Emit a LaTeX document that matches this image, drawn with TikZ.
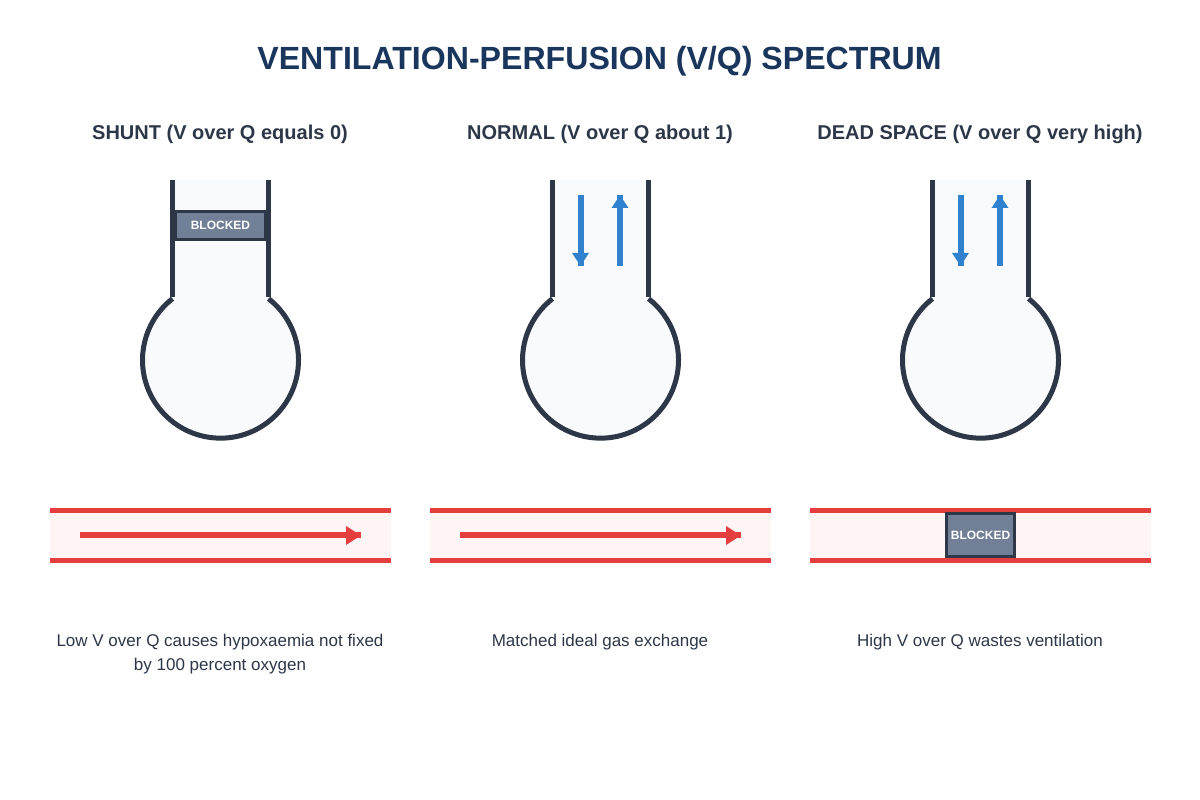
\documentclass[tikz,border=0pt]{standalone}
\usepackage{fontspec}
\setmainfont{Liberation Sans}
\usetikzlibrary{arrows.meta}
\definecolor{titleblue}{HTML}{1A365D}
\definecolor{slate}{HTML}{2D3748}
\definecolor{plug}{HTML}{718096}
\definecolor{alveolus}{HTML}{F8FAFC}
\definecolor{airblue}{HTML}{3182CE}
\definecolor{bloodred}{HTML}{E53E3E}
\definecolor{vessel}{HTML}{FFF5F5}
\tikzset{
  x=1pt, y=1pt,
  heading/.style={font=\bfseries\fontsize{20}{24}\selectfont, text=slate, inner sep=0pt},
  caption/.style={font=\fontsize{17}{24}\selectfont, text=slate, align=center, inner sep=0pt},
  blockbox/.style={draw=slate, line width=3pt, fill=plug, text=white, inner sep=0pt,
    font=\bfseries\fontsize{12}{14}\selectfont},
  wall/.style={draw=slate, line width=5pt},
  sac/.style={draw=slate, line width=5pt},
  airline/.style={draw=airblue, line width=6pt},
  airflow/.style={airline, -{Triangle[length=13pt,width=16pt]}},
  bloodline/.style={draw=bloodred, line width=6pt},
  bloodflow/.style={bloodline, -{Triangle[length=15pt,width=18pt]}},
  vesselwall/.style={draw=bloodred, line width=5pt},
}
\begin{document}
\begin{tikzpicture}
\useasboundingbox (0,0) rectangle (1200,800);
\fill[white] (0,0) rectangle (1200,800);

\node[inner sep=0pt, font=\bfseries\fontsize{32.1}{38}\selectfont, text=titleblue] (title) at (599.5,739)
  {VENTILATION-PERFUSION (V/Q) SPECTRUM};

\node[heading] (headA) at (220,666) {SHUNT (V over Q equals 0)};
\node[heading] (headB) at (600,666) {NORMAL (V over Q about 1)};
\node[heading] (headC) at (980,666) {DEAD SPACE (V over Q very high)};

% Airway and alveolus, one per column
\foreach \c in {220.5,600.5,980.5} {
  \fill[alveolus] (\c-48,620) -- (\c-48,501.3) arc[start angle=128, end angle=412, radius=78]
    -- (\c+48,620) -- cycle;
  \draw[wall] (\c-48,620) -- (\c-48,503);
  \draw[wall] (\c+48,620) -- (\c+48,503);
  \draw[sac] (\c-48,501.3) arc[start angle=128, end angle=412, radius=78];
}

% Capillary under each alveolus
\foreach \l in {50,430,810} {
  \fill[vessel] (\l,289.5) rectangle (\l+341,239.5);
  \draw[vesselwall] (\l,289.5) -- (\l+341,289.5);
  \draw[vesselwall] (\l,239.5) -- (\l+341,239.5);
}

% Airway obstruction in the shunt column
\node[blockbox, minimum width=90pt, minimum height=28pt] (plugA) at (220.5,574.5) {\raisebox{-0.7pt}{BLOCKED}};

% Ventilation arrows
\coordinate (inBtop) at (580.5,605);  \coordinate (inBend) at (580.5,534);
\coordinate (outBlow) at (620,534);   \coordinate (outBtop) at (620,605);
\coordinate (inCtop) at (960.5,605);  \coordinate (inCend) at (960.5,534);
\coordinate (outClow) at (1000,534);  \coordinate (outCtop) at (1000,605);
\foreach \a/\b in {inBtop/inBend,outBlow/outBtop,inCtop/inCend,outClow/outCtop} {
  \draw[airline] (\a) -- (\b);
  \draw[airflow] (\a) -- (\b);
}

% Perfusion arrows
\coordinate (bloodAin) at (80,264.5);   \coordinate (bloodAout) at (361,264.5);
\coordinate (bloodBin) at (460,264.5);  \coordinate (bloodBout) at (741,264.5);
\foreach \a/\b in {bloodAin/bloodAout,bloodBin/bloodBout} {
  \draw[bloodline] (\a) -- (\b);
  \draw[bloodflow] (\a) -- (\b);
}

% Capillary obstruction in the dead space column
\node[blockbox, minimum width=68pt, minimum height=43pt] (plugC) at (980.5,264.5) {\raisebox{-0.7pt}{BLOCKED}};

\node[caption, anchor=north] (noteA) at (220,166) {Low V over Q causes hypoxaemia not fixed\\by 100 percent oxygen};
\node[caption, anchor=north] (noteB) at (600,166) {Matched ideal gas exchange};
\node[caption, anchor=north] (noteC) at (980,166) {High V over Q wastes ventilation};
\end{tikzpicture}
\end{document}
